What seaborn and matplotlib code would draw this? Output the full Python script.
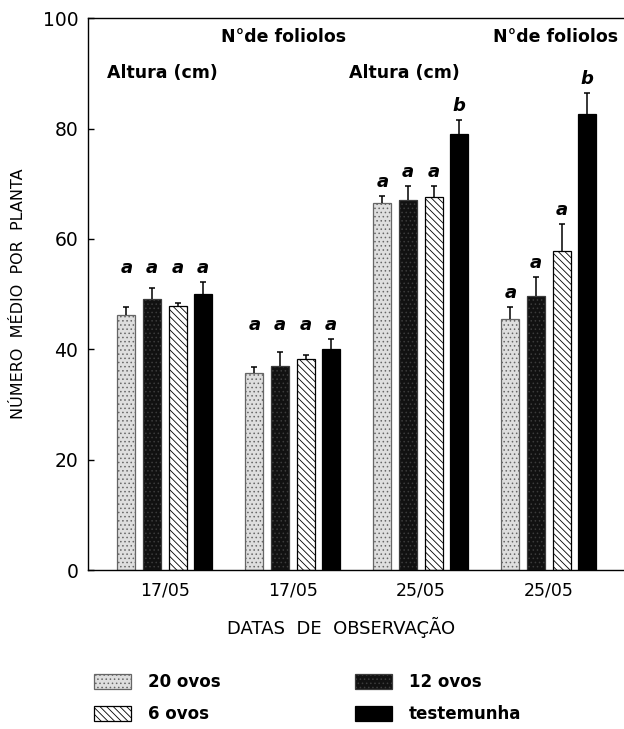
import numpy as np
import pandas as pd
import matplotlib
matplotlib.use('Agg')
import matplotlib.pyplot as plt
import seaborn as sns

# Dados
grupos = ['17/05 altura', '17/05 foliolos', '25/05 altura', '25/05 foliolos']
rotulos_x = ['17/05', '17/05', '25/05', '25/05']
tratamentos = ['20 ovos', '12 ovos', '6 ovos', 'testemunha']

media_20 = [46.2, 35.7, 66.5, 45.5]
media_12 = [49.1, 37.0, 67.0, 49.6]
media_6 = [47.8, 38.2, 67.6, 57.8]
media_test = [50.0, 40.0, 79.0, 82.6]

erro_20 = [1.4, 1.1, 1.3, 2.1]
erro_12 = [2.0, 2.5, 2.6, 3.5]
erro_6 = [0.6, 0.8, 2.0, 4.9]
erro_test = [2.2, 1.8, 2.5, 3.8]

letras_20 = ['a', 'a', 'a', 'a']
letras_12 = ['a', 'a', 'a', 'a']
letras_6 = ['a', 'a', 'a', 'a']
letras_test = ['a', 'a', 'b', 'b']

medias = [media_20, media_12, media_6, media_test]
erros = [erro_20, erro_12, erro_6, erro_test]
letras = [letras_20, letras_12, letras_6, letras_test]

df = pd.DataFrame({
    'grupo': np.tile(grupos, len(tratamentos)),
    'tratamento': np.repeat(tratamentos, len(grupos)),
    'valor': np.concatenate(medias),
})

sns.set_style('white')
plt.rcParams['font.family'] = ['DejaVu Sans']
plt.rcParams['hatch.linewidth'] = 0.6
for k in ['text.color', 'axes.labelcolor', 'xtick.color', 'ytick.color']:
    plt.rcParams[k] = 'black'

fig = plt.figure(figsize=(6.24, 7.29), dpi=100)
ax = fig.add_axes([0.141, 0.218, 0.8615, 0.757])

estilos = {
    '20 ovos': dict(fc='#dedede', hc='#666666', hatch='....'),
    '12 ovos': dict(fc='#111111', hc='#3c3c3c', hatch='....'),
    '6 ovos': dict(fc='white', hc='black', hatch='\\\\\\\\\\'),
    'testemunha': dict(fc='black', hc='black', hatch=None),
}


def estilizar(p, st):
    p.set_facecolor(st['fc'])
    p.set_linewidth(0.9)
    if st['hatch']:
        p.set_hatch(st['hatch'])
    if hasattr(p, 'set_hatchcolor'):
        p.set_edgecolor('black')
        p.set_hatchcolor(st['hc'])
    else:
        p.set_edgecolor(st['hc'])


sns.barplot(data=df, x='grupo', y='valor', hue='tratamento', order=grupos,
            hue_order=tratamentos, width=0.8, gap=0.3, errorbar=None,
            ax=ax, legend=False)

handles = {}
for i, (trat, cont) in enumerate(zip(tratamentos, ax.containers)):
    st = estilos[trat]
    xs, tops = [], []
    for bar in cont:
        estilizar(bar, st)
        xs.append(bar.get_x() + bar.get_width() / 2)
        tops.append(bar.get_height())
    xs = np.array(xs)
    tops = np.array(tops)
    err = np.array(erros[i])
    line, caps, bars = ax.errorbar(xs, tops, yerr=[np.zeros_like(err), err],
                                   fmt='none', ecolor='black', elinewidth=1.1,
                                   capsize=2.5, capthick=1.1, zorder=3)
    caps[0].set_visible(False)
    h = plt.Rectangle((0, 0), 1, 1)
    estilizar(h, st)
    handles[trat] = h

# letras de significância
for g in range(len(grupos)):
    grupo_letras = [letras[i][g] for i in range(len(tratamentos))]
    topos = [medias[i][g] + erros[i][g] for i in range(len(tratamentos))]
    uniforme = len(set(grupo_letras)) == 1
    for i, cont in enumerate(ax.containers[:len(tratamentos)]):
        bar = cont[g]
        xc = bar.get_x() + bar.get_width() / 2
        yl = (max(topos) if uniforme else topos[i]) + 2.6
        ax.text(xc, yl, grupo_letras[i], ha='center', va='center',
                fontsize=13, fontweight='bold', fontstyle='italic')

# títulos das variáveis
tit = dict(ha='center', va='center', fontsize=12.5, fontweight='bold')
ax.text(0.93, 96.6, 'N°de foliolos', **tit)
ax.text(-0.02, 90, 'Altura (cm)', **tit)
ax.text(1.875, 90, 'Altura (cm)', **tit)
ax.text(3.05, 96.6, 'N°de foliolos', **tit)

ax.set_xlim(-0.6, 3.6)
ax.set_ylim(0, 100)
ax.set_yticks([0, 20, 40, 60, 80, 100])
ax.set_xticks(range(len(grupos)))
ax.set_xticklabels(rotulos_x, fontsize=12.5)
ax.tick_params(axis='y', direction='in', length=4, width=1, labelsize=13.5, pad=7, left=True)
ax.tick_params(axis='x', length=0, pad=8)
ax.set_xlabel('DATAS  DE  OBSERVAÇÃO', fontsize=13, labelpad=14)
ax.xaxis.set_label_coords(0.47, -0.085)
ax.set_ylabel('NÚMERO  MÉDIO  POR  PLANTA', fontsize=11.5, labelpad=12)
for s in ['left', 'top', 'bottom']:
    ax.spines[s].set_visible(True)
    ax.spines[s].set_color('black')
    ax.spines[s].set_linewidth(1)
ax.spines['right'].set_visible(False)

# legenda: linha 1 = 20 ovos, 12 ovos; linha 2 = 6 ovos, testemunha
ordem = ['20 ovos', '6 ovos', '12 ovos', 'testemunha']
fig.legend([handles[t] for t in ordem], ordem, loc='upper left',
           bbox_to_anchor=(0.138, 0.088), ncol=2, frameon=False,
           prop={'weight': 'bold', 'size': 12},
           handlelength=2.2, handleheight=1.0, handletextpad=1.0,
           columnspacing=8.1, labelspacing=0.85, borderpad=0)

fig.savefig('out.png', dpi=100)
